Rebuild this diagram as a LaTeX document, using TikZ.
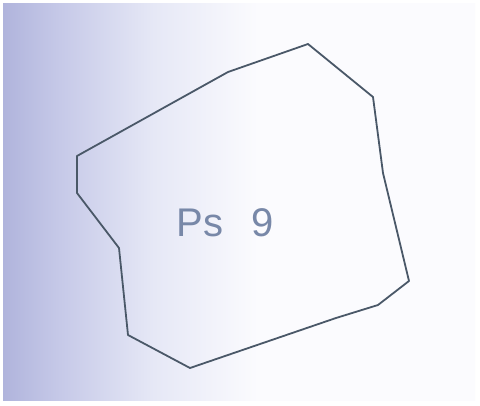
\documentclass[tikz,border=0pt]{standalone}
\usepackage{fontspec}
\setmainfont{Liberation Sans}
\usetikzlibrary{positioning}

\definecolor{paperleft}{HTML}{B0B4DC}
\definecolor{paperA}{HTML}{C6C9E8}
\definecolor{paperB}{HTML}{E6E8F6}
\definecolor{paperright}{HTML}{FBFBFE}
\definecolor{pencil}{HTML}{4A5868}
\definecolor{ink}{HTML}{7888A8}

\pgfdeclarehorizontalshading{paper}{100bp}{color(0bp)=(paperleft);
  color(25bp)=(paperleft); color(31bp)=(paperA); color(41bp)=(paperB);
  color(52bp)=(paperright); color(100bp)=(paperright)}

\begin{document}
\begin{tikzpicture}[
  x=1pt, y=-1pt,
  outline/.style={draw=pencil, line width=1.8pt, line join=round},
  lbl/.style={font=\fontsize{40}{40}\selectfont, text=ink, inner sep=0pt}
]
  \useasboundingbox (0,0) rectangle (480,405);
  \fill[white] (0,0) rectangle (480,405);
  \shade[shading=paper] (3,3) rectangle (475,400);

  % corners of the hand-drawn shape
  \coordinate (v1) at (308,44);
  \coordinate (v2) at (373,97);
  \coordinate (v3) at (383,173);
  \coordinate (v4) at (409,281);
  \coordinate (v5) at (378,305);
  \coordinate (v6) at (336,318);
  \coordinate (v7) at (190,368);
  \coordinate (v8) at (128,335);
  \coordinate (v9) at (119,248);
  \coordinate (v10) at (77,193);
  \coordinate (v11) at (77,156);
  \coordinate (v12) at (228,72);

  \draw[outline] (v1) -- (v2) -- (v3) -- (v4) -- (v5) -- (v6) -- (v7)
    -- (v8) -- (v9) -- (v10) -- (v11) -- (v12) -- cycle;

  \node[lbl] (name) at (225,223) {Ps\hspace{0.7em}9};
\end{tikzpicture}
\end{document}
